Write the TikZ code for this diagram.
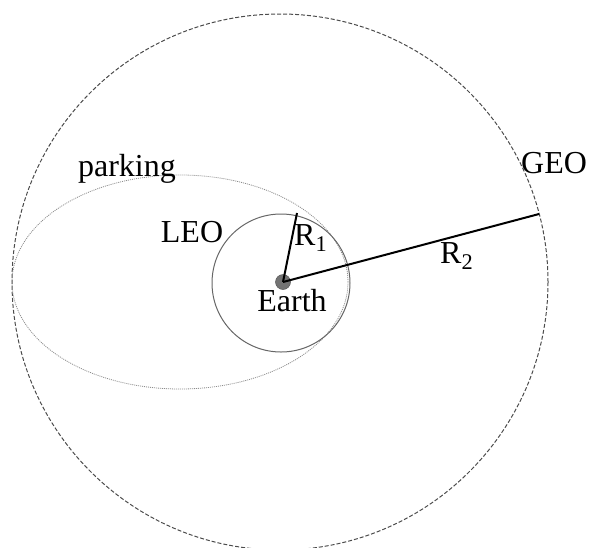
\documentclass[tikz,border=0pt]{standalone}
\usepackage{fontspec}
\setmainfont{Liberation Serif}
\begin{document}
\begin{tikzpicture}[x=1pt,y=-1pt,
  lbl/.style={font=\fontsize{32}{36}\selectfont, inner sep=0pt, anchor=base},
  geoorbit/.style={draw=black!70, line width=1pt, dash pattern=on 4pt off 2pt},
  leoorbit/.style={draw=black!60, line width=1pt},
  parkorbit/.style={draw=black!45, line width=0.8pt, dash pattern=on 1pt off 1pt},
  radiusline/.style={draw=black, line width=2pt},
  earthdot/.style={circle, fill=black!55, draw=black!65, line width=0.5pt, minimum size=15pt, inner sep=0pt}]
\useasboundingbox (0,0) rectangle (589,547);
% orbits
\draw[geoorbit] (280,282) circle [radius=268pt];
\draw[parkorbit] (180,282) ellipse [x radius=168pt, y radius=107pt];
\draw[leoorbit] (281,283) circle [radius=69pt];
% earth
\node[earthdot] (earth) at (283,282) {};
\coordinate (r1end) at (297,213);
\coordinate (r2end) at (539,214);
\draw[radiusline] (earth.center) -- (r1end);
\draw[radiusline] (earth.center) -- (r2end);
% labels
\node[lbl] (parking) at (127,176) {parking};
\node[lbl] (leo) at (192,242) {LEO};
\node[lbl, anchor=base west] (rone) at (294,245) {R\textsubscript{1}};
\node[lbl] (earthlbl) at (292,311) {Earth};
\node[lbl, anchor=base west] (rtwo) at (440,263) {R\textsubscript{2}};
\node[lbl, anchor=base west] (geo) at (521,173) {GEO};
\end{tikzpicture}
\end{document}
